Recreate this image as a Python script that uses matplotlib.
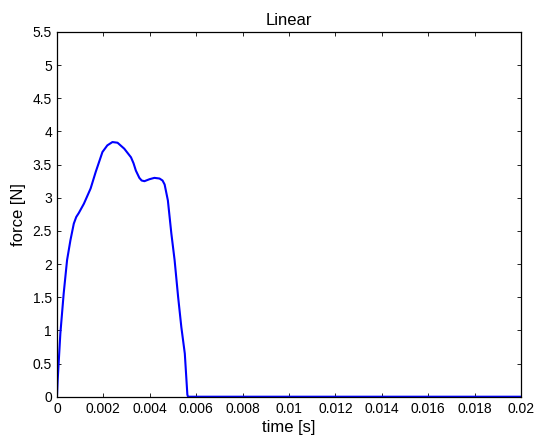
import numpy as np
import matplotlib
matplotlib.use('Agg')
import matplotlib.pyplot as plt

# Force trace (time in s, force in N).
time_s = [0.0, 0.00003, 0.000145, 0.00029, 0.000435, 0.00058, 0.000725, 0.00083,
          0.00094, 0.00116, 0.00145, 0.00167, 0.00196, 0.00217, 0.00239, 0.00261,
          0.0029, 0.00319, 0.0033, 0.0034, 0.00355, 0.00365, 0.00377, 0.00399,
          0.0042, 0.00442, 0.00455, 0.00464, 0.00478, 0.00493, 0.00507, 0.00522,
          0.00536, 0.00551, 0.00562, 0.00565, 0.02]
force_n = [0.0, 0.25, 0.95, 1.56, 2.06, 2.36, 2.61, 2.71,
           2.77, 2.91, 3.14, 3.39, 3.69, 3.79, 3.84, 3.83,
           3.74, 3.61, 3.52, 3.41, 3.30, 3.26, 3.25, 3.28,
           3.30, 3.29, 3.26, 3.20, 2.96, 2.46, 2.06, 1.51,
           1.05, 0.65, 0.03, 0.0, 0.0]

x_ticks = [0, 0.002, 0.004, 0.006, 0.008, 0.01, 0.012, 0.014, 0.016, 0.018, 0.02]
x_tick_labels = ['0', '0.002', '0.004', '0.006', '0.008', '0.01', '0.012',
                 '0.014', '0.016', '0.018', '0.02']
y_ticks = [0, 0.5, 1, 1.5, 2, 2.5, 3, 3.5, 4, 4.5, 5, 5.5]
y_tick_labels = ['0', '0.5', '1', '1.5', '2', '2.5', '3', '3.5', '4', '4.5', '5', '5.5']

plt.rcParams['font.family'] = ['Liberation Sans', 'DejaVu Sans']
plt.rcParams['font.size'] = 10

fig = plt.figure(figsize=(5.35, 4.44), dpi=100)
ax = fig.add_axes([0.1065, 0.1065, 0.8673, 0.8215])

ax.plot(time_s, force_n, color=(0, 0, 1), linewidth=1.5)

ax.set_xlim(0, 0.02)
ax.set_ylim(0, 5.5)
ax.set_xticks(x_ticks)
ax.set_xticklabels(x_tick_labels)
ax.set_yticks(y_ticks)
ax.set_yticklabels(y_tick_labels)
ax.tick_params(direction='in', top=True, right=True, length=3, width=0.6)
ax.tick_params(axis='x', pad=4)
ax.tick_params(axis='y', pad=3.5)
for s in ax.spines.values():
    s.set_linewidth(0.9)

ax.set_title('Linear', fontsize=12, pad=5)
ax.set_xlabel('time [s]', fontsize=12, labelpad=3)
ax.set_ylabel('force [N]', fontsize=12, labelpad=5)

fig.savefig('out.png', dpi=100)
